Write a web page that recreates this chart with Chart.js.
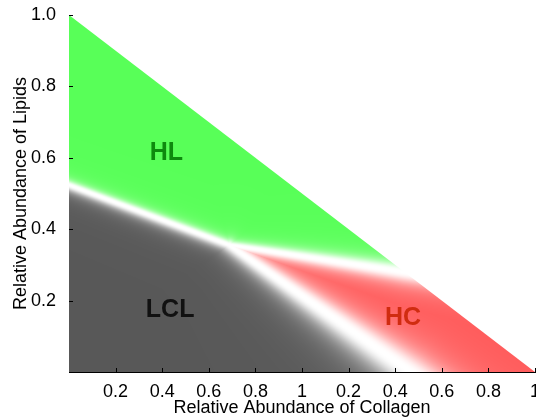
<!DOCTYPE html>
<html>
<head>
<meta charset="utf-8">
<script src="https://cdn.jsdelivr.net/npm/chart.js@4/dist/chart.umd.min.js"></script>
<style>
  html, body { margin: 0; padding: 0; background: #fff; }
  #wrap { width: 536px; height: 419px; }
</style>
</head>
<body>
<div id="wrap"><canvas id="chart" width="536" height="419"></canvas></div>
<script>
// axis tick labels (x runs 0..2, labels restart after 1)
const xTickLabels = ["", "0.2", "0.4", "0.6", "0.8", "1", "0.2", "0.4", "0.6", "0.8", "1"];
const yTickLabels = ["", "0.2", "0.4", "0.6", "0.8", "1.0"];

// feasible triangle (x = collagen axis, y = lipids)
const triangleX = [0, 0, 2];
const triangleY = [0, 1, 0];

// decision boundaries: all start at the triple point and run to the triangle edge
const triplePoint = [0.688, 0.356];
const boundaryNames = ["LCL|HL", "LCL|HC", "HL|HC"];
const boundaryEndX = [0, 1.468, 1.44];
const boundaryEndY = [0.524, 0, 0.28];

// class labels and where they sit
const regionNames = ["HL", "LCL", "HC"];
const regionLabelX = [0.418, 0.434, 1.434];
const regionLabelY = [0.616, 0.176, 0.154];

const regionColors = {HL: [88, 255, 88], LCL: [88, 88, 88], HC: [255, 88, 88]};
const labelColors = {HL: "#0e8a0e", LCL: "#111111", HC: "#d02c10"};

// blur width (px) of each boundary at the triple point and at its far end
const blendStart = [5, 6, 4.5];
const blendEnd = [4.5, 15, 9];
const sideScale = {HL: 1.0, LCL: 1.3, HC: 1.2};

const FONT = "'Liberation Sans', Arial, Helvetica, sans-serif";

const heatmapPlugin = {
    id: "heatmap",
    beforeDatasetsDraw(chart) {
        const {ctx, chartArea, scales: {x, y}} = chart;
        const left = Math.floor(chartArea.left), top = Math.floor(chartArea.top);
        const w = Math.ceil(chartArea.right) - left, h = Math.ceil(chartArea.bottom) - top;

        const tx = x.getPixelForValue(triplePoint[0]);
        const ty = y.getPixelForValue(triplePoint[1]);
        const rays = boundaryEndX.map((bx, k) => {
            const dx = x.getPixelForValue(bx) - tx;
            const dy = y.getPixelForValue(boundaryEndY[k]) - ty;
            const len = Math.hypot(dx, dy);
            return {ux: dx / len, uy: dy / len, len: len, w0: blendStart[k], w1: blendEnd[k]};
        });
        const lineY = (r, px) => ty + (px - tx) * r.uy / r.ux;

        const off = document.createElement("canvas");
        off.width = w; off.height = h;
        const octx = off.getContext("2d");
        const img = octx.createImageData(w, h);

        for (let j = 0; j < h; j++) {
            const py = top + j + 0.5;
            for (let i = 0; i < w; i++) {
                const px = left + i + 0.5;
                const yA = lineY(rays[0], px), yB = lineY(rays[1], px), yC = lineY(rays[2], px);
                let region;
                if (py > yA && py > yB) region = "LCL";
                else if (py < yA && py < yC) region = "HL";
                else region = "HC";

                let white = 0;
                for (const r of rays) {
                    const rx = px - tx, ry = py - ty;
                    const t = rx * r.ux + ry * r.uy;
                    const d = t < 0 ? Math.hypot(rx, ry) : Math.abs(rx * r.uy - ry * r.ux);
                    const f = Math.min(Math.max(t / r.len, 0), 1);
                    const s = (r.w0 + (r.w1 - r.w0) * f) * sideScale[region];
                    // smooth fade to white at the boundary
                    white = Math.max(white, 1 / (1 + Math.pow(d / s, 2.5)));
                }
                const c = regionColors[region];
                const o = (j * w + i) * 4;
                img.data[o] = c[0] + (255 - c[0]) * white;
                img.data[o + 1] = c[1] + (255 - c[1]) * white;
                img.data[o + 2] = c[2] + (255 - c[2]) * white;
                img.data[o + 3] = 255;
            }
        }
        octx.putImageData(img, 0, 0);

        ctx.save();
        ctx.beginPath();
        triangleX.forEach((vx, k) => {
            const px = x.getPixelForValue(vx), py = y.getPixelForValue(triangleY[k]);
            if (k === 0) ctx.moveTo(px, py); else ctx.lineTo(px, py);
        });
        ctx.closePath();
        ctx.clip();
        ctx.drawImage(off, left, top);
        ctx.restore();
    },
    afterDatasetsDraw(chart) {
        const {ctx, scales: {x, y}} = chart;
        ctx.save();
        ctx.font = "bold 25px " + FONT;
        ctx.textAlign = "center";
        ctx.textBaseline = "middle";
        regionNames.forEach((name, k) => {
            ctx.fillStyle = labelColors[name];
            ctx.fillText(name, x.getPixelForValue(regionLabelX[k]), y.getPixelForValue(regionLabelY[k]) + 1);
        });
        ctx.restore();
    },
    afterDraw(chart) {
        // inward tick marks
        const {ctx, chartArea, scales: {x, y}} = chart;
        ctx.save();
        ctx.strokeStyle = "#000";
        ctx.lineWidth = 1;
        ctx.beginPath();
        x.ticks.forEach(t => {
            if (t.value <= 0) return;
            const px = Math.round(x.getPixelForValue(t.value)) + 0.5;
            ctx.moveTo(px, chartArea.bottom);
            ctx.lineTo(px, chartArea.bottom - 4);
        });
        y.ticks.forEach(t => {
            if (t.value <= 0) return;
            const py = Math.round(y.getPixelForValue(t.value)) + 0.5;
            ctx.moveTo(chartArea.left, py);
            ctx.lineTo(chartArea.left + 4, py);
        });
        ctx.stroke();
        ctx.restore();
    }
};

const chart = new Chart(document.getElementById("chart"), {
    type: "scatter",
    data: {
        datasets: [{
            label: "triangle",
            data: triangleX.map((vx, k) => ({x: vx, y: triangleY[k]})),
            pointRadius: 0,
            showLine: false,
        }]
    },
    options: {
        responsive: false,
        animation: false,
        layout: {padding: {top: 15, right: 1, left: 0, bottom: 0}},
        plugins: {legend: {display: false}, tooltip: {enabled: false}},
        scales: {
            x: {
                type: "linear",
                min: 0,
                max: 2,
                grid: {display: false},
                border: {display: true, color: "#000", width: 1},
                ticks: {
                    stepSize: 0.2,
                    autoSkip: false,
                    maxRotation: 0,
                    padding: 1,
                    color: "#000",
                    font: {family: FONT, size: 18},
                    callback: (v, i) => xTickLabels[i],
                },
                title: {
                    display: true,
                    text: "Relative Abundance of Collagen",
                    color: "#000",
                    font: {family: FONT, size: 18},
                    padding: {top: 0, bottom: 0},
                },
                afterFit: (scale) => {
                    scale.height = 47;
                    scale.paddingLeft = 0;
                    scale.paddingRight = 0;
                },
            },
            y: {
                type: "linear",
                min: 0,
                max: 1,
                grid: {display: false},
                border: {display: true, color: "#000", width: 1},
                ticks: {
                    stepSize: 0.2,
                    autoSkip: false,
                    padding: 5,
                    color: "#000",
                    font: {family: FONT, size: 18},
                    callback: (v, i) => yTickLabels[i],
                },
                title: {
                    display: true,
                    text: "Relative Abundance of Lipids",
                    color: "#000",
                    font: {family: FONT, size: 18},
                    padding: {top: 10, bottom: 0},
                },
                afterFit: (scale) => {
                    scale.width = 69;
                    scale.paddingTop = 0;
                    scale.paddingBottom = 0;
                },
            },
        },
    },
    plugins: [heatmapPlugin],
});
</script>
</body>
</html>
